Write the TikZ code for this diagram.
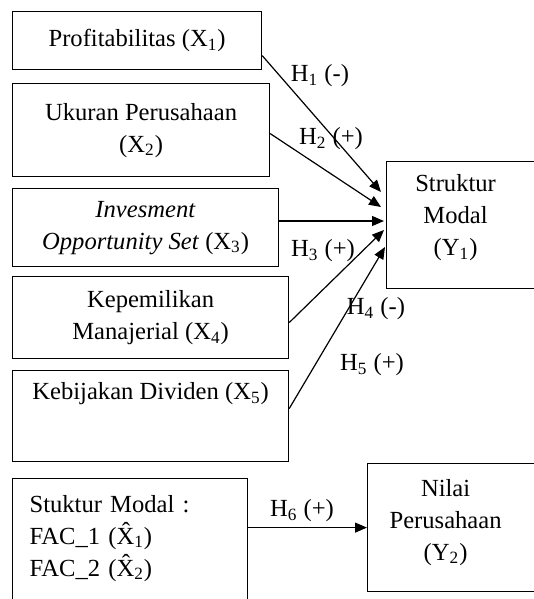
\documentclass[tikz,border=0pt]{standalone}
\usepackage{fontspec}
\setmainfont{Liberation Serif}
\usetikzlibrary{arrows.meta}
\begin{document}
\begin{tikzpicture}[x=0.5pt,y=-0.5pt,
        font=\fontsize{12.3}{16}\selectfont,
        box/.style={draw,line width=0.6pt,rectangle,anchor=north west,align=center,inner sep=0pt},
        link/.style={line width=0.6pt,-{Triangle[length=6pt,width=5pt]}},
        hyp/.style={inner sep=0pt}]
        \useasboundingbox (0,0) rectangle (534,599);
        \clip (0,0) rectangle (534,599);
        %% Variables
        \node[box,minimum width=124.5pt,minimum height=29pt] (x1) at (12,11) {Profitabilitas (X\textsubscript{1})};
        \node[box,minimum width=128.5pt,minimum height=46.5pt] (x2) at (12,83) {Ukuran Perusahaan\\(X\textsubscript{2})};
        \node[box,minimum width=133pt,minimum height=39pt] (x3) at (12,188) {\textit{Invesment}\\\textit{Opportunity Set} (X\textsubscript{3})};
        \node[box,minimum width=138pt,minimum height=41pt] (x4) at (12,276) {Kepemilikan\\Manajerial (X\textsubscript{4})};
        \node[box,minimum width=138pt,minimum height=45.5pt] (x5) at (12,370) {Kebijakan Dividen (X\textsubscript{5})\\[9pt]\mbox{}};
        \node[box,align=none,minimum width=79.5pt,minimum height=63.5pt] (y1) at (386,161)
            {\raisebox{4pt}[\height][\depth]{\begin{tabular}{@{}c@{}}Struktur\\Modal\\(Y\textsubscript{1})\end{tabular}}\kern10.5pt};
        \node[box,minimum width=117.5pt,minimum height=73pt,align=left,text width=100.5pt,inner xsep=8.5pt] (sm) at (12,478) {Stuktur Modal :\\FAC\_1 (\^{X}\textsubscript{1})\\FAC\_2 (\^{X}\textsubscript{2})\\\mbox{}};
        \node[box,align=none,minimum width=89pt,minimum height=64pt] (y2) at (367,463)
            {\raisebox{3pt}[\height][\depth]{\begin{tabular}{@{}c@{}}Nilai\\Perusahaan\\(Y\textsubscript{2})\end{tabular}}\kern11pt};
        %% Arrow ends
        \coordinate (t1) at (381,192);
        \coordinate (t2) at (381,207);
        \coordinate (t3) at (384,221);
        \coordinate (t4) at (384,230);
        \coordinate (t5) at (385,247);
        %% Hypotheses
        \draw[link] ([yshift=-7.5pt]x1.east) -- (t1);
        \draw[link] ([yshift=-1.75pt]x2.east) -- (t2);
        \draw[link] (x3.east |- t3) -- (t3);
        \draw[link] ([yshift=-2.5pt]x4.east) -- (t4);
        \draw[link] ([yshift=3.75pt]x5.east) -- (t5);
        \draw[link] (sm.east |- y2.west) -- (y2.west);
        \node[hyp] (h1) at (320,76) {H\textsubscript{1} (-)};
        \node[hyp] (h2) at (331,139) {H\textsubscript{2} (+)};
        \node[hyp] (h3) at (323,251) {H\textsubscript{3} (+)};
        \node[hyp] (h4) at (376,309) {H\textsubscript{4} (-)};
        \node[hyp] (h5) at (372,365) {H\textsubscript{5} (+)};
        \node[hyp] (h6) at (302,511) {H\textsubscript{6} (+)};
    \end{tikzpicture}
\end{document}
